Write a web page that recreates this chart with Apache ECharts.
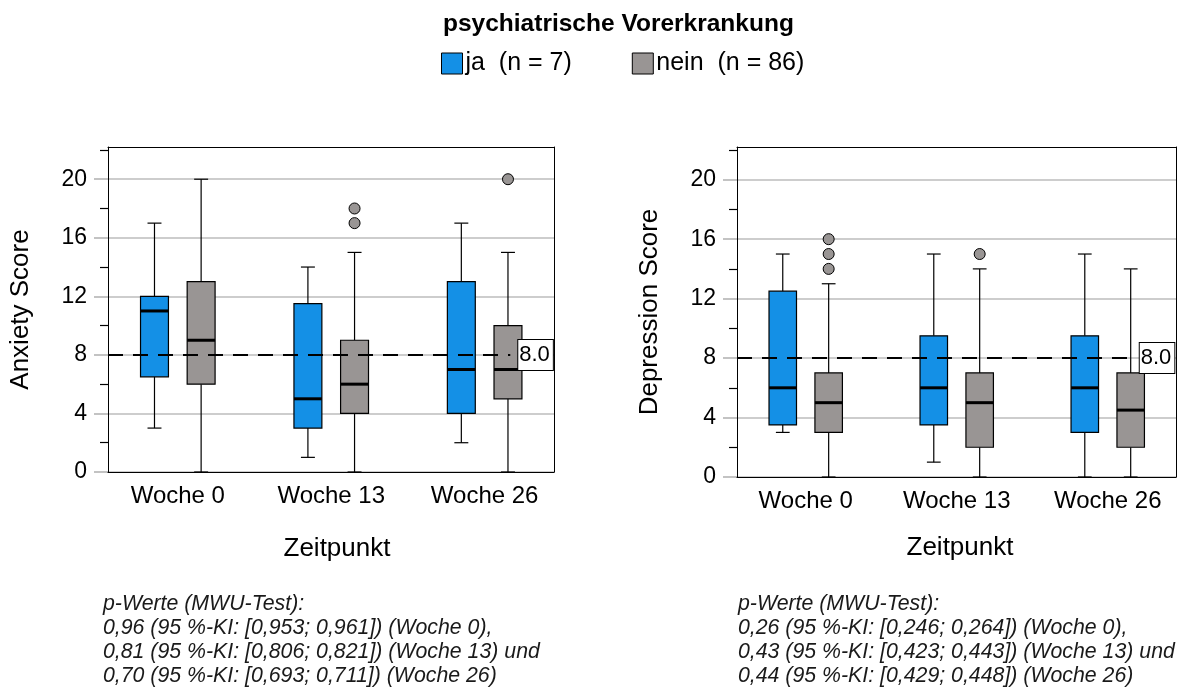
<!DOCTYPE html>
<html>
<head>
<meta charset="utf-8">
<script src="https://cdn.jsdelivr.net/npm/echarts@6/dist/echarts.min.js"></script>
<style>
  html, body { margin: 0; padding: 0; background: #fff; }
  #chart { width: 1183px; height: 691px; }
</style>
</head>
<body>
<div id="chart"></div>
<script>
// ---- Data -----------------------------------------------------------------
const categories = ['Woche 0', 'Woche 13', 'Woche 26'];
const groupNames = ['ja', 'nein'];
const groupN = [7, 86];

// five-number summaries per time point: [min, Q1, median, Q3, max]
const anxietyJa   = [[3, 6.5, 11, 12, 17], [1, 3, 5, 11.5, 14], [2, 4, 7, 13, 17]];
const anxietyNein = [[0, 6, 9, 13, 20],    [0, 4, 6, 9, 15],    [0, 5, 7, 10, 15]];
// outliers: [time point index, value]
const anxietyNeinOutliers = [[1, 17], [1, 18], [2, 20]];

const depressionJa   = [[3, 3.5, 6, 12.5, 15], [1, 3.5, 6, 9.5, 15], [0, 3, 6, 9.5, 15]];
const depressionNein = [[0, 3, 5, 7, 13],      [0, 2, 5, 7, 14],     [0, 2, 4.5, 7, 14]];
const depressionNeinOutliers = [[0, 14], [0, 15], [0, 16], [1, 15]];

const referenceValue = 8;
const majorTicks = [0, 4, 8, 12, 16, 20];
const minorTicks = [2, 6, 10, 14, 18, 22];

const footerAnxiety = [
  'p-Werte (MWU-Test):',
  '0,96 (95 %-KI: [0,953; 0,961]) (Woche 0),',
  '0,81 (95 %-KI: [0,806; 0,821]) (Woche 13) und',
  '0,70 (95 %-KI: [0,693; 0,711]) (Woche 26)'
];
const footerDepression = [
  'p-Werte (MWU-Test):',
  '0,26 (95 %-KI: [0,246; 0,264]) (Woche 0),',
  '0,43 (95 %-KI: [0,423; 0,443]) (Woche 13) und',
  '0,44 (95 %-KI: [0,429; 0,448]) (Woche 26)'
];

// ---- Styling ----------------------------------------------------------------
const FONT = 'Liberation Sans, Arial, Helvetica, sans-serif';
const BLUE = '#1490e6';
const GREY = '#999594';
const GRID_GREY = '#bdbdbd';
const X_MIN = -0.455, X_MAX = 2.452, Y_MAX = 22.2;
const BOX_W = 0.182;      // box width in category units
const PAIR_OFFSET = 0.152; // shift of each group from the category centre

function boxRenderer(offset, fill) {
  return function (params, api) {
    const x = api.value(0) + offset;
    const p = [1, 2, 3, 4, 5].map(d => api.coord([x, api.value(d)]));
    const half = api.size([BOX_W, 0])[0] / 2;
    const cap = half / 2;
    const cx = p[0][0];
    const ln = { stroke: '#000', lineWidth: 1.2 };
    return {
      type: 'group',
      children: [
        { type: 'line', shape: { x1: cx, y1: p[0][1], x2: cx, y2: p[1][1] }, style: ln },
        { type: 'line', shape: { x1: cx, y1: p[3][1], x2: cx, y2: p[4][1] }, style: ln },
        { type: 'line', shape: { x1: cx - cap, y1: p[0][1], x2: cx + cap, y2: p[0][1] }, style: ln },
        { type: 'line', shape: { x1: cx - cap, y1: p[4][1], x2: cx + cap, y2: p[4][1] }, style: ln },
        { type: 'rect', shape: { x: cx - half, y: p[3][1], width: 2 * half, height: p[1][1] - p[3][1] },
          style: { fill: fill, stroke: '#000', lineWidth: 1.2 } },
        { type: 'line', shape: { x1: cx - half, y1: p[2][1], x2: cx + half, y2: p[2][1] },
          style: { stroke: '#000', lineWidth: 3 } }
      ]
    };
  };
}

function boxSeries(name, summaries, offset, color, xi, yi) {
  return {
    type: 'custom',
    name: name,
    xAxisIndex: xi,
    yAxisIndex: yi,
    clip: false,
    itemStyle: { color: color, borderColor: '#000', borderWidth: 1 },
    encode: { x: 0, y: [1, 2, 3, 4, 5] },
    data: summaries.map((s, i) => [i].concat(s)),
    renderItem: boxRenderer(offset, color)
  };
}

function outlierSeries(points, xi, yi, lineEnd) {
  return {
    type: 'scatter',
    name: 'Ausreißer',
    xAxisIndex: xi,
    yAxisIndex: yi,
    symbol: 'circle',
    symbolSize: 11,
    itemStyle: { color: GREY, borderColor: '#000', borderWidth: 1, opacity: 1 },
    data: points.map(p => [p[0] + PAIR_OFFSET, p[1]]),
    z: 4,
    markLine: {
      silent: true,
      symbol: ['none', 'none'],
      animation: false,
      lineStyle: { color: '#000', width: 2, type: [15, 10] },
      label: {
        show: true,
        position: 'end',
        distance: 8,
        formatter: referenceValue.toFixed(1),
        fontFamily: FONT,
        fontSize: 22,
        color: '#000',
        backgroundColor: '#fff',
        borderColor: '#000',
        borderWidth: 1,
        padding: [3, 3, 1, 1],
        lineHeight: 26
      },
      data: [[{ coord: [X_MIN, referenceValue] }, { coord: [lineEnd, referenceValue] }]]
    }
  };
}

function xAxes(gridIndex, nameGap, namePad) {
  return [
    {
      gridIndex: gridIndex, type: 'value', position: 'bottom', min: X_MIN, max: X_MAX, z: 3,
      axisLine: { show: true, onZero: false, lineStyle: { color: '#000', width: 1 } },
      axisTick: { show: false },
      splitLine: { show: false },
      axisLabel: {
        customValues: [0, 1, 2],
        formatter: v => categories[Math.round(v)],
        fontFamily: FONT, fontSize: 24, color: '#000', margin: 12
      },
      name: 'Zeitpunkt', nameLocation: 'middle', nameGap: nameGap,
      nameTextStyle: { fontFamily: FONT, fontSize: 26, color: '#000', padding: namePad }
    },
    {
      gridIndex: gridIndex, type: 'value', position: 'top', min: X_MIN, max: X_MAX, z: 3,
      axisLine: { show: true, onZero: false, lineStyle: { color: '#000', width: 1 } },
      axisTick: { show: false }, axisLabel: { show: false }, splitLine: { show: false }
    }
  ];
}

function yAxes(gridIndex, name, nameGap) {
  return [
    {
      gridIndex: gridIndex, type: 'value', position: 'left', min: 0, max: Y_MAX, interval: 4, z: 1,
      axisLine: { show: true, onZero: false, lineStyle: { color: '#000', width: 1 } },
      axisTick: { show: true, customValues: majorTicks, length: 14, lineStyle: { color: '#b0b0b0', width: 1.5 } },
      axisLabel: { customValues: majorTicks, fontFamily: FONT, fontSize: 23, color: '#000', margin: 21 },
      splitLine: { show: true, customValues: [4, 8, 12, 16, 20], lineStyle: { color: GRID_GREY, width: 1.5 } },
      name: name, nameLocation: 'middle', nameGap: nameGap, nameRotate: 90,
      nameTextStyle: { fontFamily: FONT, fontSize: 26, color: '#000' }
    },
    {
      // minor ticks between the labelled values
      gridIndex: gridIndex, type: 'value', position: 'left', offset: 0, min: 0, max: Y_MAX, z: 3,
      axisLine: { show: false, onZero: false },
      axisTick: { show: true, customValues: minorTicks, length: 8, lineStyle: { color: '#000', width: 1.2 } },
      axisLabel: { show: false }, splitLine: { show: false }
    },
    {
      gridIndex: gridIndex, type: 'value', position: 'right', min: 0, max: Y_MAX, z: 3,
      axisLine: { show: true, onZero: false, lineStyle: { color: '#000', width: 1 } },
      axisTick: { show: false }, axisLabel: { show: false }, splitLine: { show: false }
    }
  ];
}

function footer(lines, x) {
  return {
    type: 'text', left: x, top: 592,
    style: {
      text: lines.join('\n'),
      font: 'italic 21.3px ' + FONT,
      fill: '#1a1a1a',
      lineHeight: 24
    }
  };
}

const chart = echarts.init(document.getElementById('chart'), null, { renderer: 'canvas' });

chart.setOption({
  animation: false,
  backgroundColor: '#fff',
  textStyle: { fontFamily: FONT },
  title: {
    text: 'psychiatrische Vorerkrankung',
    left: 438, top: 7,
    textStyle: { fontFamily: FONT, fontSize: 24.5, fontWeight: 'bold', color: '#000' }
  },
  legend: {
    data: groupNames,
    left: 441, top: 51,
    padding: 0,
    icon: 'rect',
    itemWidth: 21, itemHeight: 21, itemGap: 60,
    itemStyle: { borderColor: '#000', borderWidth: 1 },
    formatter: name => name + '  (n = ' + groupN[groupNames.indexOf(name)] + ')',
    textStyle: { fontFamily: FONT, fontSize: 25, color: '#000', padding: [0, 0, 0, -2] },
    selectedMode: false
  },
  grid: [
    { left: 108, top: 147, width: 446, height: 325, show: false },
    { left: 737, top: 147, width: 439, height: 330, show: false }
  ],
  xAxis: xAxes(0, 64, [0, 0, 0, 12]).concat(xAxes(1, 58, [0, 0, 0, 7])),
  yAxis: yAxes(0, 'Anxiety Score', 74).concat(yAxes(1, 'Depression Score', 74)),
  series: [
    boxSeries('ja',   anxietyJa,   -PAIR_OFFSET, BLUE, 0, 0),
    boxSeries('nein', anxietyNein,  PAIR_OFFSET, GREY, 0, 0),
    outlierSeries(anxietyNeinOutliers, 0, 0, 2.167),
    boxSeries('ja',   depressionJa,   -PAIR_OFFSET, BLUE, 2, 3),
    boxSeries('nein', depressionNein,  PAIR_OFFSET, GREY, 2, 3),
    outlierSeries(depressionNeinOutliers, 2, 3, 2.159)
  ],
  graphic: [footer(footerAnxiety, 103), footer(footerDepression, 738)]
});
</script>
</body>
</html>
